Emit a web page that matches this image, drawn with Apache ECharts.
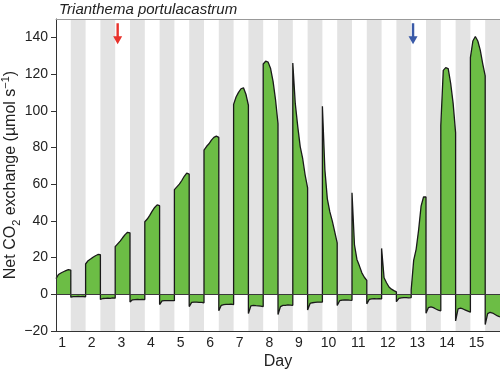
<!DOCTYPE html>
<html>
<head>
<meta charset="utf-8">
<script src="https://cdn.jsdelivr.net/npm/echarts@6/dist/echarts.min.js"></script>
<style>
html,body{margin:0;padding:0;background:#fff;}
#chart{width:500px;height:372px;}
</style>
</head>
<body>
<div id="chart"></div>
<script>
// ---- data ----
const title = 'Trianthema portulacastrum';
const days = [1,2,3,4,5,6,7,8,9,10,11,12,13,14,15];
const hoursPerDay = 24;
const lightHours = [0, 2, 4, 6, 8, 10, 12];      // sample times within the light period
const darkHours = [12, 14, 16, 18, 20, 22, 24];  // sample times within the dark period
const labelHourInDay = 5;                         // where the day number sits within each day
// Net CO2 exchange during light periods (µmol s-1)
const lightValues = [
  [8.5, 10.8, 11.6, 12.3, 12.9, 13.4, 13.2],
  [16.5, 18.3, 19.2, 20.2, 21.0, 21.7, 21.6],
  [26.0, 27.5, 29.0, 30.8, 32.5, 33.8, 33.5],
  [39.5, 41.0, 43.0, 45.3, 47.3, 48.7, 48.3],
  [57.0, 58.5, 60.0, 62.0, 64.3, 66.0, 65.5],
  [78.5, 80.5, 82.0, 84.0, 85.5, 86.2, 85.5],
  [103.5, 107.5, 110.0, 112.0, 112.5, 109.0, 103.0],
  [125.5, 127.0, 126.5, 123.0, 116.0, 106.0, 93.0],
  [126.0, 104.0, 91.5, 80.5, 74.0, 65.0, 58.0],
  [102.5, 68.0, 52.0, 45.0, 40.0, 34.0, 28.0],
  [55.3, 27.0, 19.0, 15.5, 11.7, 9.3, 7.6],
  [25.0, 9.0, 6.3, 4.0, 2.8, 2.0, 1.3],
  [2.5, 18.5, 24.5, 35.0, 48.0, 53.0, 53.0],
  [92.0, 122.0, 123.5, 123.0, 115.0, 104.0, 88.0],
  [129.0, 138.0, 140.5, 138.0, 133.0, 125.6, 119.0]
];
// Net CO2 exchange during dark periods (µmol s-1)
const darkValues = [
  [-1.6, -1.3, -1.3, -1.2, -1.3, -1.2, -1.4],
  [-2.8, -2.3, -2.2, -2.1, -2.2, -2.0, -2.1],
  [-4.2, -3.0, -2.9, -2.8, -2.9, -2.8, -2.9],
  [-5.6, -3.6, -3.4, -3.4, -3.5, -3.4, -3.5],
  [-6.7, -4.4, -4.3, -4.3, -4.4, -4.4, -4.6],
  [-9.0, -6.0, -5.6, -5.5, -5.5, -5.4, -5.6],
  [-10.5, -6.3, -6.0, -6.2, -6.3, -6.5, -6.7],
  [-11.0, -6.7, -6.0, -6.0, -5.8, -5.9, -6.0],
  [-8.5, -5.0, -4.6, -4.4, -4.3, -4.3, -4.2],
  [-6.1, -3.5, -3.2, -3.1, -3.0, -3.2, -3.3],
  [-5.2, -2.8, -2.5, -2.4, -2.5, -2.4, -2.5],
  [-4.0, -2.2, -2.0, -1.8, -1.8, -1.9, -1.8],
  [-10.3, -7.2, -6.8, -7.3, -8.0, -8.6, -9.0],
  [-14.5, -8.0, -7.6, -8.0, -8.6, -9.2, -9.8],
  [-16.5, -10.5, -9.8, -10.2, -11.0, -11.8, -12.3]
];
const yTicks = [-20, 0, 20, 40, 60, 80, 100, 120, 140];
const yMin = -20, yMax = 150;
// treatment arrows: [hour, value]
const arrowRed = [50, 142];
const arrowBlue = [289.5, 142];

// ---- build ----
const seriesData = [];
const darkBands = [];
days.forEach((d, i) => {
  const base = (d - 1) * hoursPerDay;
  lightHours.forEach((h, j) => seriesData.push([base + h, lightValues[i][j]]));
  darkHours.forEach((h, j) => seriesData.push([base + h, darkValues[i][j]]));
  darkBands.push([{xAxis: base + darkHours[0]}, {xAxis: base + darkHours[darkHours.length - 1]}]);
});
const dayLabelHours = days.map(d => (d - 1) * hoursPerDay + labelHourInDay);

const arrowPath = 'path://M3.3,0 L5.7,0 L5.7,13 L9,13 L4.5,21 L0,13 L3.3,13 Z';
const font = '"Liberation Sans", Arial, Helvetica, sans-serif';
const axisColor = '#333';

const chart = echarts.init(document.getElementById('chart'));
chart.setOption({
  animation: false,
  title: {
    text: title, left: 59, top: 2, padding: 0,
    textStyle: {fontFamily: font, fontStyle: 'italic', fontWeight: 'normal', fontSize: 15, color: '#222'}
  },
  grid: {left: 56, right: 0, top: 19, bottom: 41, containLabel: false, outerBoundsMode: 'none'},
  xAxis: [{
    type: 'value', min: 0, max: days.length * hoursPerDay,
    name: 'Day', nameLocation: 'middle', nameGap: 23, nameMoveOverlap: false,
    nameTextStyle: {fontFamily: font, fontSize: 16, color: '#222'},
    axisLine: {show: true, onZero: false, lineStyle: {color: axisColor, width: 1}},
    axisTick: {show: false},
    splitLine: {show: false},
    z: 5,
    axisLabel: {
      customValues: dayLabelHours, margin: 5,
      fontFamily: font, fontSize: 14, color: '#222',
      formatter: v => String(Math.round((v - labelHourInDay) / hoursPerDay) + 1)
    }
  }, {
    type: 'value', position: 'top', min: 0, max: days.length * hoursPerDay,
    axisLine: {show: true, onZero: false, lineStyle: {color: '#999', width: 1}},
    axisTick: {show: false}, axisLabel: {show: false}, splitLine: {show: false}, z: 5
  }],
  yAxis: {
    type: 'value', min: yMin, max: yMax,
    name: '{n|Net CO}{s|2}{n| exchange (µmol s}{p|−1}{n|)}',
    nameLocation: 'middle', nameGap: 34, nameMoveOverlap: false,
    nameTextStyle: {
      fontFamily: font, fontSize: 16, color: '#222',
      rich: {
        n: {fontFamily: font, fontSize: 16, color: '#222', lineHeight: 22, verticalAlign: 'middle'},
        s: {fontFamily: font, fontSize: 11, color: '#222', lineHeight: 22, verticalAlign: 'bottom'},
        p: {fontFamily: font, fontSize: 11, color: '#222', lineHeight: 22, verticalAlign: 'top'}
      }
    },
    axisLine: {show: true, onZero: false, lineStyle: {color: axisColor, width: 1}},
    axisTick: {show: true, length: 5, customValues: yTicks, lineStyle: {color: axisColor}},
    axisLabel: {customValues: yTicks, margin: 8, fontFamily: font, fontSize: 14, color: '#222',
      formatter: v => v < 0 ? '−' + Math.abs(v) : String(v)},
    splitLine: {show: false},
    z: 5
  },
  series: [{
    type: 'line',
    data: seriesData,
    showSymbol: false,
    symbol: 'none',
    lineStyle: {color: '#1a1a1a', width: 1.3},
    areaStyle: {color: '#6cbd45', opacity: 1, origin: 0},
    markArea: {
      silent: true,
      itemStyle: {color: '#e3e3e3'},
      data: darkBands
    },
    markLine: {
      silent: true, symbol: 'none', label: {show: false},
      lineStyle: {color: '#3a3a3a', width: 1, type: 'solid'},
      data: [{yAxis: 0}]
    },
    markPoint: {
      silent: true, label: {show: false},
      data: [
        {coord: arrowRed, symbol: arrowPath, symbolSize: [9, 21], symbolKeepAspect: false, itemStyle: {color: '#e8322b'}},
        {coord: arrowBlue, symbol: arrowPath, symbolSize: [9, 21], symbolKeepAspect: false, itemStyle: {color: '#3a5aa8'}}
      ]
    }
  }]
});
</script>
</body>
</html>
